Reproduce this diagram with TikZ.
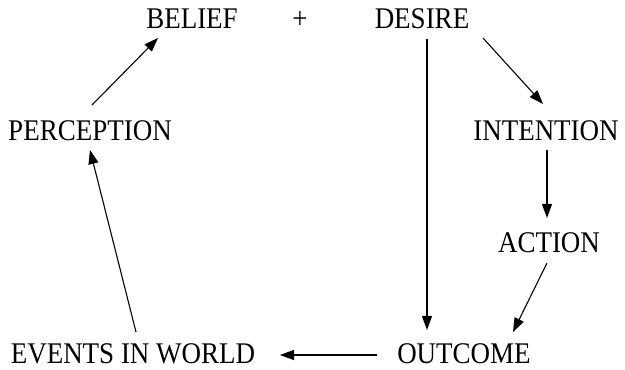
\documentclass[tikz,border=0pt]{standalone}
\usepackage{fontspec}
\setmainfont[FakeStretch=0.9]{Liberation Serif}
\usetikzlibrary{calc,arrows.meta}
\begin{document}
\begin{tikzpicture}[x=1pt,y=1pt,
  lbl/.style={anchor=base,inner sep=0pt,font=\fontsize{30}{36}\selectfont},
  conn/.style={line width=1.1pt,-{Triangle[length=14pt,width=10pt]}}]
\useasboundingbox (0,0) rectangle (625,370);
\node[lbl] (belief)  at (192,341) {BELIEF};
\node[lbl] (plus)    at (300,341) {+};
\node[lbl] (desire)  at (422,341) {DESIRE};
\node[lbl] (perc)    at (90,229)  {PERCEPTION};
\node[lbl] (inten)   at (546,229) {INTENTION};
\node[lbl] (action)  at (549,117) {ACTION};
\node[lbl] (events)  at (133,6)   {EVENTS IN WORLD};
\node[lbl] (outcome) at (464,6)   {OUTCOME};
\draw[conn] ($(perc.base)+(2,36)$) -- ($(belief.base)+(-34,-9)$);
\draw[conn] ($(desire.base)+(61,-9)$) -- ($(inten.base)+(-3,37)$);
\draw[conn] ($(inten.base)+(1,-9)$) -- ($(action.base)+(-2,35)$);
\draw[conn] ($(action.base)+(-2,-10)$) -- ($(outcome.base)+(49,32)$);
\draw[conn] ($(desire.base)+(5,-10)$) -- ($(outcome.base)+(-37,34)$);
\draw[conn] ($(outcome.base)+(-87,9)$) -- ($(events.base)+(147,9)$);
\draw[conn] ($(events.base)+(3,32)$) -- ($(perc.base)+(0,-9)$);
\end{tikzpicture}
\end{document}
